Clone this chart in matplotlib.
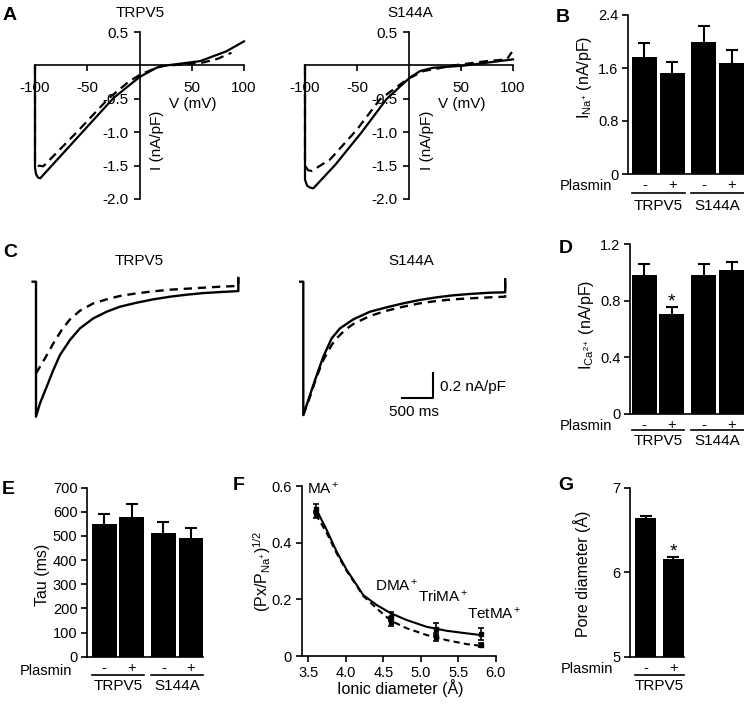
import matplotlib
matplotlib.use('Agg')
import matplotlib.pyplot as plt
from matplotlib.transforms import blended_transform_factory

plt.rcParams['font.family'] = ['Liberation Sans', 'DejaVu Sans']
plt.rcParams['mathtext.fontset'] = 'custom'
plt.rcParams['mathtext.rm'] = 'Liberation Sans'
plt.rcParams['mathtext.it'] = 'Liberation Sans:italic'
plt.rcParams['mathtext.bf'] = 'Liberation Sans:bold'
plt.rcParams['axes.unicode_minus'] = False
plt.rcParams['font.size'] = 10.5
plt.rcParams['axes.linewidth'] = 1.2

# ---- A: I-V curves (V in mV, I in nA/pF) ----
iv_trpv5_ctrl_v = [-100, -100, -99, -97, -95, -60, -25, -6, 0.5, 16.5, 26, 58, 83, 100]
iv_trpv5_ctrl_i = [0, -1.53, -1.63, -1.68, -1.69, -1.09, -0.49, -0.25, -0.17, -0.034, 0, 0.064, 0.21, 0.36]
iv_trpv5_pl_v = [-100, -100, -97, -92, -60, -30, -10, 0.5, 20, 30, 60, 75, 88]
iv_trpv5_pl_i = [0, -1.45, -1.5, -1.51, -1.0, -0.5, -0.24, -0.14, -0.01, 0.0, 0.04, 0.1, 0.19]
iv_s144a_ctrl_v = [-100, -100, -98, -95, -92, -71, -45.5, -21.4, 1, 10.6, 23.4, 52, 100]
iv_s144a_ctrl_i = [0, -1.71, -1.8, -1.83, -1.84, -1.49, -1.0, -0.5, -0.18, -0.085, -0.035, -0.005, 0.09]
iv_s144a_pl_v = [-100, -100, -97, -93.6, -76, -50, -28, -2, 14, 43, 75, 94, 99]
iv_s144a_pl_i = [0, -1.5, -1.57, -1.58, -1.41, -0.96, -0.51, -0.21, -0.085, 0.0, 0.065, 0.09, 0.2]

# ---- B: Na+ current ----
bar_signs = ['-', '+', '-', '+']
bar_groups = ['TRPV5', 'S144A']
ina_mean = [1.77, 1.52, 1.99, 1.68]
ina_sem = [0.20, 0.17, 0.25, 0.19]

# ---- C: Ca2+ current traces (t in ms, I in nA/pF) ----
tr_trpv5_ctrl_t = [-53, 0, 0, 63, 169, 274, 379, 537, 695, 906, 1117, 1327, 1591, 1854, 2117, 2381, 2644, 2907, 3197, 3197]
tr_trpv5_ctrl_i = [0, 0, -1.08, -0.973, -0.84, -0.706, -0.586, -0.466, -0.373, -0.293, -0.24, -0.2, -0.168, -0.141,
                   -0.12, -0.104, -0.091, -0.083, -0.075, 0.03]
tr_trpv5_pl_t = [0, 142, 274, 406, 537, 695, 906, 1117, 1327, 1591, 1854, 2117, 2381, 2644, 2907, 3197, 3197]
tr_trpv5_pl_i = [-0.733, -0.613, -0.493, -0.386, -0.301, -0.232, -0.173, -0.141, -0.114, -0.093, -0.077, -0.064,
                 -0.056, -0.048, -0.04, -0.034, 0.03]
tr_s144a_ctrl_t = [-50, 0, 0, 79, 185, 316, 448, 580, 791, 1054, 1317, 1580, 1843, 2107, 2370, 2633, 2949, 3190, 3190]
tr_s144a_ctrl_i = [0, 0, -1.067, -0.947, -0.787, -0.6, -0.453, -0.373, -0.301, -0.24, -0.205, -0.173, -0.146, -0.125,
                   -0.109, -0.098, -0.088, -0.085, 0.02]
tr_s144a_pl_t = [0, 106, 211, 316, 448, 527, 659, 791, 1054, 1317, 1580, 1843, 2107, 2370, 2633, 2949, 3190, 3190]
tr_s144a_pl_i = [-1.067, -0.92, -0.76, -0.626, -0.506, -0.453, -0.386, -0.338, -0.274, -0.232, -0.2, -0.173, -0.154,
                 -0.141, -0.133, -0.125, -0.12, 0.0]

# ---- D: Ca2+ current ----
ica_mean = [0.98, 0.705, 0.98, 1.016]
ica_sem = [0.078, 0.053, 0.078, 0.06]

# ---- E: inactivation tau ----
tau_mean = [550, 580, 514, 493]
tau_sem = [41, 51, 45, 39]

# ---- F: permeability vs ionic diameter ----
ion_names = ['MA$\\mathregular{^+}$', 'DMA$\\mathregular{^+}$', 'TriMA$\\mathregular{^+}$', 'TetMA$\\mathregular{^+}$']
ion_diam = [3.6, 4.6, 5.2, 5.8]
perm_ctrl = [0.52, 0.139, 0.095, 0.078]
perm_ctrl_err = [0.015, 0.015, 0.02, 0.02]
perm_pl = [0.50, 0.121, 0.068, 0.039]
perm_pl_err = [0.013, 0.015, 0.014, 0.007]
fit_ctrl_x = [3.6, 3.745, 3.879, 4.012, 4.145, 4.233, 4.412, 4.6, 4.812, 5.079, 5.345, 5.612, 5.8]
fit_ctrl_y = [0.521, 0.445, 0.368, 0.304, 0.251, 0.215, 0.18, 0.151, 0.127, 0.103, 0.089, 0.08, 0.074]
fit_pl_x = [3.6, 3.745, 3.879, 4.012, 4.145, 4.233, 4.412, 4.6, 4.812, 5.079, 5.345, 5.612, 5.8]
fit_pl_y = [0.50, 0.435, 0.362, 0.3, 0.248, 0.212, 0.168, 0.125, 0.098, 0.074, 0.056, 0.042, 0.036]

# ---- G: pore diameter ----
pore_mean = [6.645, 6.156]
pore_sem = [0.025, 0.025]

W, H = 744, 705
fig = plt.figure(figsize=(W / 100, H / 100), dpi=100)


def add_ax(l, t, r, b):
    return fig.add_axes([l / W, 1 - b / H, (r - l) / W, (b - t) / H])


def ftext(x, y, s, **kw):
    fig.text(x / W, 1 - y / H, s, **kw)


def iv_panel(box, ctrl_v, ctrl_i, pl_v, pl_i):
    ax = add_ax(*box)
    ax.plot(ctrl_v, ctrl_i, color='black', lw=1.6, clip_on=False)
    ax.plot(pl_v, pl_i, color='black', lw=1.6, ls=(0, (4, 2.5)), clip_on=False)
    ax.set_xlim(-100, 100)
    ax.set_ylim(-2.0, 0.5)
    ax.spines['left'].set_position(('data', 0))
    ax.spines['bottom'].set_position(('data', 0))
    ax.spines[['top', 'right']].set_visible(False)
    ax.set_xticks([-100, -50, 50, 100])
    ax.set_xticklabels(['-100', '-50', '50', '100'])
    ax.set_yticks([0.5, -0.5, -1.0, -1.5, -2.0])
    ax.set_yticklabels(['0.5', '-0.5', '-1.0', '-1.5', '-2.0'])
    ax.tick_params(axis='x', length=4, width=1.2, pad=7, labelsize=11)
    ax.tick_params(axis='y', length=4, width=1.2, pad=4, labelsize=11)
    ax.patch.set_visible(False)
    return ax


def bar_panel(box, xlim, pos, vals, errs, ylim, yticks, ylabels, width=0.9, tick_size=10.5):
    ax = add_ax(*box)
    ax.bar(pos, vals, width=width, color='black', zorder=3)
    ax.errorbar(pos, vals, yerr=errs, fmt='none', ecolor='black', elinewidth=1.5,
                capsize=4.5, capthick=1.5, zorder=2, clip_on=False)
    ax.set_xlim(*xlim)
    ax.set_ylim(*ylim)
    ax.spines[['top', 'right']].set_visible(False)
    ax.set_xticks([])
    ax.set_yticks(yticks)
    ax.set_yticklabels(ylabels)
    ax.tick_params(axis='y', length=4, width=1.2, pad=3, labelsize=tick_size)
    ax.patch.set_visible(False)
    return ax


def group_row(ax, box, pos, signs, groups, width, offs, plasmin_x, plasmin_dy=1):
    l, t, r, b = box
    blend = blended_transform_factory(ax.transData, ax.transAxes)
    for x, s in zip(pos, signs):
        ax.annotate(s, xy=(x, 0), xycoords=('data', 'axes fraction'), xytext=(0, -offs[0]),
                    textcoords='offset pixels', ha='center', va='center', fontsize=10.5)
    for k, g in enumerate(groups):
        x0 = pos[2 * k] - width / 2
        x1 = pos[2 * k + 1] + width / 2
        yy = -offs[1] / (b - t)
        ax.plot([x0, x1], [yy, yy], color='black', lw=1.2, transform=blend, clip_on=False)
        ax.annotate(g, xy=((x0 + x1) / 2, 0), xycoords=('data', 'axes fraction'), xytext=(0, -offs[2]),
                    textcoords='offset pixels', ha='center', va='center', fontsize=11)
    ftext(plasmin_x, b + offs[0] + plasmin_dy, 'Plasmin', ha='right', va='center', fontsize=10.5)


# panel letters
for x, y, s in [(3, 15, 'A'), (556, 17, 'B'), (3, 252, 'C'), (559, 248, 'D'), (2, 489, 'E'), (233, 486, 'F'),
                (558, 486, 'G')]:
    ftext(x, y, s, fontsize=14, fontweight='bold', ha='left', va='center')

# A
iv_panel((35, 32, 244, 199), iv_trpv5_ctrl_v, iv_trpv5_ctrl_i, iv_trpv5_pl_v, iv_trpv5_pl_i)
ftext(140, 13, 'TRPV5', ha='center', va='center', fontsize=11)
ftext(193, 104, 'V (mV)', ha='center', va='center', fontsize=11)
ftext(157, 140, 'I (nA/pF)', ha='center', va='center', rotation=90, fontsize=11)
iv_panel((305, 32, 513, 199), iv_s144a_ctrl_v, iv_s144a_ctrl_i, iv_s144a_pl_v, iv_s144a_pl_i)
ftext(410, 13, 'S144A', ha='center', va='center', fontsize=11)
ftext(462, 104, 'V (mV)', ha='center', va='center', fontsize=11)
ftext(427, 140, 'I (nA/pF)', ha='center', va='center', rotation=90, fontsize=11)

pos4 = [0, 1, 2.15, 3.15]

# B
box_b = (628, 15, 744, 174)
ax_b = bar_panel(box_b, (-0.595, 3.6), pos4, ina_mean, ina_sem, (0, 2.4), [0, 0.8, 1.6, 2.4],
                 ['0', '0.8', '1.6', '2.4'])
group_row(ax_b, box_b, pos4, bar_signs, bar_groups, 0.9, (11, 18.5, 32), 612)
ftext(585, 77, r'$\mathregular{I_{Na^{+}}}$ (nA/pF)', ha='center', va='center', rotation=90, fontsize=11.5)

# C traces
ms_px, na_px, base_py = 15.8, 0.008, 281.7
ylim_c = ((base_py - 425) * na_px, (base_py - 270) * na_px)
ax_c1 = add_ax(20, 270, 250, 425)
ax_c1.plot(tr_trpv5_ctrl_t, tr_trpv5_ctrl_i, color='black', lw=1.7)
ax_c1.plot(tr_trpv5_pl_t, tr_trpv5_pl_i, color='black', lw=1.7, ls=(0, (3.5, 2.5)))
ax_c1.set_xlim((20 - 36) * ms_px, (250 - 36) * ms_px)
ax_c1.set_ylim(*ylim_c)
ax_c1.axis('off')
ftext(139, 261, 'TRPV5', ha='center', va='center', fontsize=11)

ax_c2 = add_ax(285, 270, 520, 425)
ax_c2.plot(tr_s144a_ctrl_t, tr_s144a_ctrl_i, color='black', lw=1.7)
ax_c2.plot(tr_s144a_pl_t, tr_s144a_pl_i, color='black', lw=1.7, ls=(0, (3.5, 2.5)))
ax_c2.set_xlim((285 - 303.3) * ms_px, (520 - 303.3) * ms_px)
ax_c2.set_ylim(*ylim_c)
ax_c2.axis('off')
ftext(411, 261, 'S144A', ha='center', va='center', fontsize=11)
# scale bar: 500 ms x 0.2 nA/pF
sb_t, sb_i = 2054, -0.933
ax_c2.plot([sb_t - 500, sb_t, sb_t], [sb_i, sb_i, sb_i + 0.2], color='black', lw=1.5)
ftext(440, 387, '0.2 nA/pF', ha='left', va='center', fontsize=11)
ftext(414, 412, '500 ms', ha='center', va='center', fontsize=11)

# D
box_d = (630, 244.3, 744, 414)
ax_d = bar_panel(box_d, (-0.51, 3.6), pos4, ica_mean, ica_sem, (0, 1.2), [0, 0.4, 0.8, 1.2],
                 ['0', '0.4', '0.8', '1.2'])
group_row(ax_d, box_d, pos4, bar_signs, bar_groups, 0.9, (11, 16, 27), 612)
ax_d.annotate('*', xy=(pos4[1], ica_mean[1] + ica_sem[1]), xytext=(0, -4), textcoords='offset pixels',
              ha='center', va='bottom', fontsize=14)
ftext(586, 325, r'$\mathregular{I_{Ca^{2+}}}$ (nA/pF)', ha='center', va='center', rotation=90, fontsize=11.5)

# E
box_e = (87.3, 487.7, 203.3, 656.7)
ax_e = bar_panel(box_e, (-0.61, 3.6), pos4, tau_mean, tau_sem, (0, 700), list(range(0, 701, 100)),
                 [str(v) for v in range(0, 701, 100)], tick_size=10.5)
group_row(ax_e, box_e, pos4, bar_signs, bar_groups, 0.9, (11, 18.3, 29.6), 72, plasmin_dy=3)
ftext(43, 575, 'Tau (ms)', ha='center', va='center', rotation=90, fontsize=11.5)

# F
ax_f = add_ax(301.7, 486, 495.7, 656)
ax_f.plot(fit_ctrl_x, fit_ctrl_y, color='black', lw=1.5)
ax_f.plot(fit_pl_x, fit_pl_y, color='black', lw=1.5, ls=(0, (3, 2)))
ax_f.errorbar(ion_diam, perm_ctrl, yerr=perm_ctrl_err, fmt='s', ms=2.5, color='black', elinewidth=1.2,
              capsize=2.5, capthick=1.2, clip_on=False)
ax_f.errorbar(ion_diam, perm_pl, yerr=perm_pl_err, fmt='s', ms=2.5, color='black', elinewidth=1.2,
              capsize=2.5, capthick=1.2, clip_on=False)
ax_f.set_xlim(3.412, 6.0)
ax_f.set_ylim(0, 0.6)
ax_f.spines[['top', 'right']].set_visible(False)
ax_f.set_xticks([3.5, 4.0, 4.5, 5.0, 5.5, 6.0])
ax_f.set_xticklabels(['3.5', '4.0', '4.5', '5.0', '5.5', '6.0'])
ax_f.set_yticks([0, 0.2, 0.4, 0.6])
ax_f.set_yticklabels(['0', '0.2', '0.4', '0.6'])
ax_f.tick_params(length=4, width=1.2, pad=3, labelsize=10.5)
ax_f.patch.set_visible(False)
for (x, y), s in zip([(307, 489), (375, 586), (418, 597), (467, 614)], ion_names):
    ftext(x, y, s, ha='left', va='center', fontsize=11)
ftext(400, 688, 'Ionic diameter (\u00c5)', ha='center', va='center', fontsize=11.5)
ftext(262, 571, r'$\mathregular{(Px/P_{Na^{+}})^{1/2}}$', ha='center', va='center', rotation=90, fontsize=11.5)

# G
box_g = (630, 487.7, 684, 656.7)
ax_g = bar_panel(box_g, (-0.57, 1.39), [0, 1], pore_mean, pore_sem, (5, 7), [5, 6, 7], ['5', '6', '7'],
                 width=0.78)
group_row(ax_g, box_g, [0, 1], bar_signs[:2], bar_groups[:1], 0.78, (11, 18.3, 29.6), 613)
ax_g.annotate('*', xy=(1, pore_mean[1] + pore_sem[1]), xytext=(0, -4), textcoords='offset pixels',
              ha='center', va='bottom', fontsize=14)
ftext(582, 574, 'Pore diameter (\u00c5)', ha='center', va='center', rotation=90, fontsize=11.5)

fig.savefig('out.png', dpi=100)
